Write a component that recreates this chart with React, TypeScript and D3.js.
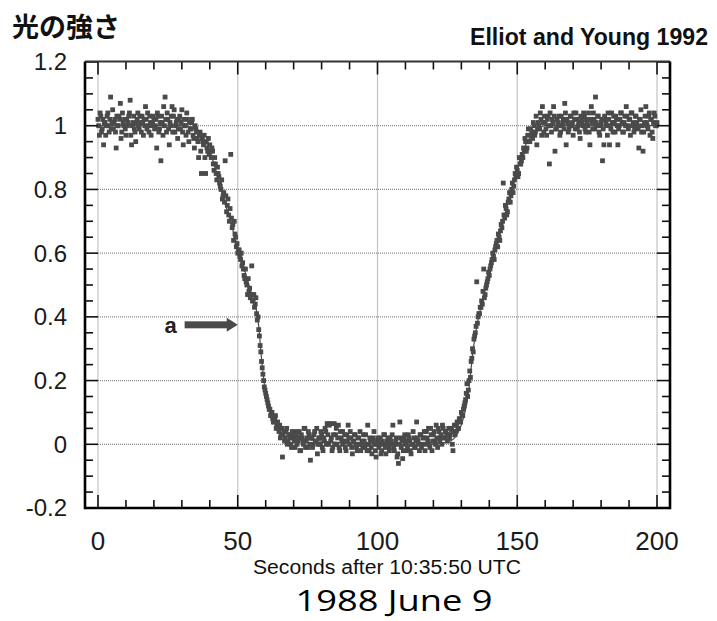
import React from 'react';
import * as d3 from 'd3';

const W = 717;
const H = 621;

// photometer sampling interval (seconds); two interleaved reading sets, offset by half a sample
const SAMPLE_DT = 0.5;
const OFFSET_B = 0.25;

// relative stellar flux, one reading per sample, by phase
const preStart = 0;
const preValues = [
  1.02, 0.97, 1.03, 0.99, 0.94, 1.01, 1.00, 1.04, 0.98, 1.09,
  1.01, 0.99, 1.02, 0.93, 1.00, 1.03, 1.07, 0.98, 1.01, 1.02,
  0.97, 1.00, 1.03, 1.08, 0.94, 1.01, 0.99, 0.95, 1.02, 1.00,
  1.03, 0.98, 1.01, 1.02, 1.06, 0.99, 1.00, 1.03, 0.97, 1.01,
  1.02, 1.00, 0.93, 1.03, 0.99, 0.89, 1.01, 1.06, 1.09, 0.98,
  1.02, 0.94, 1.00, 1.06, 1.03, 0.98, 1.01, 0.96, 1.02, 0.99,
  1.05, 0.94, 1.00, 0.97, 1.02, 0.95, 0.99, 1.01, 0.97, 0.93,
  0.99, 0.96, 0.90, 0.98, 0.85, 0.95, 0.97, 0.85, 0.93, 0.96,
];
const preValuesB = [
  1.00, 1.04, 0.98, 1.02, 1.01, 0.97, 1.03, 1.00, 1.02, 0.99,
  1.05, 1.01, 0.98, 1.03, 1.00, 1.02, 0.96, 1.04, 1.00, 0.99,
  1.02, 1.01, 1.04, 0.97, 1.00, 1.03, 0.98, 1.01, 1.04, 0.99,
  1.01, 1.03, 0.97, 1.00, 1.02, 1.04, 0.98, 1.01, 1.00, 1.03,
  0.99, 1.02, 1.04, 0.98, 1.01, 1.03, 0.97, 1.00, 1.02, 1.04,
  0.99, 1.01, 1.03, 0.98, 1.05, 1.00, 1.02, 0.99, 1.03, 1.01,
  0.98, 1.02, 1.00, 1.04, 0.98, 1.01, 0.99, 1.02, 0.96, 1.00,
  0.98, 0.95, 0.97, 0.92, 0.96, 0.94, 0.90, 0.95, 0.92, 0.91,
];

const ingressStart = 40;
const ingressValues = [
  0.94, 0.90, 0.92, 0.86, 0.88, 0.83, 0.85, 0.82, 0.80, 0.77,
  0.79, 0.89, 0.73, 0.77, 0.70, 0.91, 0.68, 0.64, 0.66, 0.62,
  0.60, 0.61, 0.58, 0.56, 0.55, 0.52, 0.51, 0.47, 0.48, 0.46,
  0.56, 0.45, 0.43, 0.46, 0.39, 0.36, 0.31, 0.26, 0.22, 0.18,
  0.16, 0.14, 0.12, 0.11, 0.10, 0.08, 0.07, 0.09, 0.06, 0.05,
  0.06, 0.03, -0.04, 0.04, 0.02, 0.05, 0.01, 0.03, 0.00, 0.04,
];
const ingressValuesB = [
  0.92, 0.93, 0.88, 0.90, 0.85, 0.87, 0.84, 0.81, 0.83, 0.78,
  0.76, 0.78, 0.75, 0.72, 0.74, 0.71, 0.69, 0.70, 0.65, 0.63,
  0.61, 0.59, 0.60, 0.57, 0.53, 0.55, 0.50, 0.52, 0.49, 0.47,
  0.45, 0.47, 0.44, 0.41, 0.40, 0.34, 0.29, 0.24, 0.20, 0.17,
  0.15, 0.13, 0.11, 0.09, 0.10, 0.07, 0.08, 0.05, 0.07, 0.04,
  0.02, 0.05, 0.03, 0.01, 0.04, 0.00, 0.03, 0.02, -0.01, 0.03,
];

const floorStart = 70;
const floorValues = [
  0.02, -0.01, 0.03, 0.01, 0.04, -0.02, 0.02, 0.00, 0.05, 0.01,
  -0.01, 0.03, -0.05, 0.02, 0.00, 0.04, 0.01, -0.03, 0.02, 0.00,
  0.03, -0.02, 0.01, 0.04, 0.065, 0.00, 0.065, 0.02, -0.01, 0.065,
  0.03, 0.00, 0.06, -0.02, 0.02, 0.04, 0.01, -0.01, 0.03, 0.06,
  0.00, 0.02, -0.03, 0.01, 0.03, -0.01, 0.02, 0.00, -0.02, 0.01,
  0.03, -0.01, 0.00, 0.06, -0.02, 0.01, -0.03, 0.02, 0.00, -0.04,
  0.01, -0.01, 0.02, -0.02, 0.00, 0.03, -0.03, 0.01, -0.01, 0.02,
  0.00, 0.06, -0.02, 0.01, -0.04, -0.06, 0.07, -0.01, -0.045, 0.02,
  0.00, -0.02, 0.03, 0.01, -0.03, 0.00, 0.02, -0.01, 0.07, 0.01,
  -0.02, 0.03, 0.00, 0.02, -0.02, 0.04, 0.01, 0.00, 0.05, -0.02,
  0.03, 0.01, 0.06, -0.01, 0.04, 0.02, 0.00, 0.05, 0.02, 0.04,
];
const floorValuesB = [
  0.01, 0.04, 0.00, 0.02, -0.02, 0.03, 0.01, 0.05, -0.01, 0.02,
  0.04, 0.00, 0.02, -0.01, 0.03, 0.01, 0.05, 0.00, 0.02, 0.04,
  -0.01, 0.02, 0.05, 0.00, 0.03, 0.06, 0.01, -0.02, 0.03, 0.00,
  0.05, 0.02, -0.01, 0.04, 0.01, 0.00, 0.03, -0.02, 0.01, 0.02,
  0.04, -0.01, 0.01, 0.03, 0.00, -0.02, 0.02, 0.04, 0.00, -0.01,
  0.01, 0.03, -0.02, 0.00, 0.02, -0.01, 0.01, 0.04, -0.02, 0.00,
  0.02, 0.00, -0.03, 0.01, 0.03, -0.01, 0.00, 0.02, -0.02, 0.01,
  0.03, -0.01, 0.00, 0.02, -0.03, 0.00, 0.02, 0.01, -0.02, 0.03,
  0.01, -0.01, 0.02, -0.02, 0.00, 0.04, -0.01, 0.01, 0.02, 0.00,
  0.03, -0.01, 0.02, 0.04, 0.00, 0.02, 0.05, -0.01, 0.03, 0.01,
  0.04, 0.00, 0.02, 0.05, 0.01, 0.03, 0.06, 0.02, 0.04, 0.03,
];

const egressStart = 125;
const egressValues = [
  0.01, 0.05, 0.03, 0.045, -0.02, 0.06, 0.04, 0.07, 0.05, 0.08,
  0.10, 0.09, 0.12, 0.14, 0.19, 0.17, 0.23, 0.26, 0.30, 0.33,
  0.35, 0.51, 0.40, 0.41, 0.43, 0.44, 0.55, 0.47, 0.50, 0.52,
  0.53, 0.56, 0.58, 0.59, 0.61, 0.63, 0.62, 0.65, 0.67, 0.68,
  0.82, 0.71, 0.74, 0.73, 0.77, 0.76, 0.80, 0.79, 0.83, 0.84,
  0.86, 0.85, 0.88, 0.89, 0.90, 0.92, 0.95, 0.93, 0.99, 0.95,
  0.97, 0.96, 1.00, 0.98, 0.94, 1.01, 0.99, 1.02, 1.06, 0.98,
];
const egressValuesB = [
  0.03, 0.02, 0.05, 0.00, 0.04, 0.03, 0.06, 0.05, 0.08, 0.07,
  0.09, 0.11, 0.13, 0.16, 0.15, 0.20, 0.21, 0.27, 0.29, 0.34,
  0.37, 0.38, 0.41, 0.43, 0.45, 0.48, 0.46, 0.49, 0.51, 0.54,
  0.55, 0.57, 0.60, 0.58, 0.62, 0.64, 0.66, 0.64, 0.69, 0.70,
  0.72, 0.75, 0.72, 0.76, 0.79, 0.78, 0.82, 0.81, 0.85, 0.87,
  0.84, 0.90, 0.88, 0.91, 0.93, 0.96, 0.92, 0.97, 0.95, 0.99,
  0.98, 1.01, 0.97, 1.03, 0.99, 1.00, 1.04, 0.97, 1.01, 1.03,
];

const postStart = 160;
const postValues = [
  1.01, 0.97, 1.03, 0.88, 1.00, 1.02, 1.06, 0.92, 0.99, 1.01,
  1.03, 0.98, 1.00, 1.02, 1.07, 0.94, 1.01, 0.99, 1.03, 1.00,
  0.97, 1.02, 1.04, 0.99, 1.01, 0.96, 1.02, 1.00, 1.03, 0.98,
  1.01, 1.04, 0.94, 1.06, 0.99, 1.02, 1.09, 1.00, 1.03, 0.97,
  1.01, 0.89, 0.94, 1.02, 1.00, 1.04, 0.94, 0.99, 1.01, 1.03,
  0.98, 1.02, 0.94, 1.00, 1.04, 1.01, 0.98, 1.03, 1.06, 1.00,
  1.02, 0.97, 1.04, 1.01, 0.99, 1.03, 1.00, 0.93, 1.02, 0.98,
  0.92, 1.01, 1.06, 1.00, 1.03, 0.97, 1.02, 0.96, 1.04, 1.00,
  1.01,
];
const postValuesB = [
  0.99, 1.02, 1.00, 1.04, 0.98, 1.01, 1.03, 0.99, 1.02, 1.00,
  0.97, 1.03, 1.01, 0.99, 1.04, 1.02, 0.98, 1.00, 1.03, 1.01,
  1.04, 0.99, 1.02, 1.00, 0.98, 1.03, 1.01, 1.04, 0.99, 1.02,
  1.00, 0.98, 1.02, 1.01, 1.04, 0.99, 1.01, 1.03, 0.98, 1.00,
  1.02, 0.99, 1.03, 1.01, 0.97, 1.02, 1.00, 1.04, 0.98, 1.01,
  1.03, 1.00, 0.99, 1.02, 1.04, 0.98, 1.01, 1.00, 1.03, 0.99,
  1.02, 1.04, 1.00, 0.98, 1.03, 1.01, 0.99, 1.02, 1.05, 1.00,
  0.98, 1.03, 1.01, 0.99, 1.04, 1.02, 0.98, 1.01, 1.03, 1.00,
];

// fitted model light curve
const modelTimes = [0, 30, 36, 40, 44, 48, 52, 55, 56.5, 57.5, 58.5, 59.5, 60.5, 62, 64, 67, 72, 80, 100,
  120, 126, 129, 131, 132.5, 134, 135.5, 137, 140, 144, 148, 152, 156, 160, 200];
const modelValues = [1.0, 1.0, 0.98, 0.92, 0.8, 0.68, 0.56, 0.47, 0.43, 0.37, 0.27, 0.19, 0.14, 0.1, 0.065,
  0.04, 0.02, 0.01, 0.0, 0.0, 0.01, 0.04, 0.09, 0.16, 0.28, 0.37, 0.43, 0.54, 0.67, 0.8, 0.92, 0.98, 1.0, 1.0];

const xTickValues = [0, 50, 100, 150, 200];
const xTickLabels = ['0', '50', '100', '150', '200'];
const yTickValues = [1.2, 1, 0.8, 0.6, 0.4, 0.2, 0, -0.2];
const yTickLabels = ['1.2', '1', '0.8', '0.6', '0.4', '0.2', '0', '-0.2'];

// annotation arrow "a" (data units)
const arrowTip = { t: 50, v: 0.375 };
const arrowTail = 31;
const arrowLabel = 'a';

const box = { left: 85, right: 670, top: 61.5, bottom: 508 };
const sans = '"Liberation Sans", Arial, sans-serif';

const App = () => {
  const x = d3.scaleLinear().domain([0, 200]).range([98, 657]);
  const y = d3.scaleLinear().domain([-0.2, 1.2]).range([508, 62]);

  const phases: [number, number[]][] = [
    [preStart, preValues],
    [preStart + OFFSET_B, preValuesB],
    [ingressStart, ingressValues],
    [ingressStart + OFFSET_B, ingressValuesB],
    [floorStart, floorValues],
    [floorStart + OFFSET_B, floorValuesB],
    [egressStart, egressValues],
    [egressStart + OFFSET_B, egressValuesB],
    [postStart, postValues],
    [postStart + OFFSET_B, postValuesB],
  ];
  const points = phases.flatMap(([t0, vals]) => vals.map((v, i) => ({ t: t0 + i * SAMPLE_DT, v })));

  const model = modelTimes.map((t, i) => [t, modelValues[i]] as [number, number]);
  const line = d3.line<[number, number]>()
    .x(d => x(d[0]))
    .y(d => y(d[1]))
    .curve(d3.curveMonotoneX);

  const minorX = d3.range(0, 201, 10);
  const minorY = d3.range(0, 29).map(i => -0.2 + i * 0.05);
  const isMajorY = (v: number) => Math.abs(v / 0.2 - Math.round(v / 0.2)) < 1e-6;

  const sq = 4.8;
  const markColor = '#4a4a4a';

  const ax = x(arrowTip.t);
  const ay = y(arrowTip.v);
  const tailX = x(arrowTail);

  return (
    <svg width={W} height={H} style={{ position: 'absolute', left: 0, top: 0, background: '#fff' }}>
      <rect width={W} height={H} fill="#fff" />

      {/* grid */}
      <g stroke="#8a8a8a" strokeWidth={1.2} strokeDasharray="1,1">
        {xTickValues.map(t => (
          <line key={'gx' + t} x1={x(t)} x2={x(t)} y1={box.top} y2={box.bottom} />
        ))}
        {yTickValues.filter(v => v > -0.2 && v < 1.2).map(v => (
          <line key={'gy' + v} x1={x(0)} x2={x(200)} y1={y(v)} y2={y(v)} />
        ))}
      </g>

      {/* data */}
      <g fill={markColor}>
        {points.map((p, i) => (
          <rect key={i} x={x(p.t) - sq / 2} y={y(p.v) - sq / 2} width={sq} height={sq} />
        ))}
      </g>
      <path d={line(model) || ''} fill="none" stroke={markColor} strokeWidth={1.2} />

      {/* ticks */}
      <g stroke="#111" strokeWidth={1.6}>
        {minorX.map(t => {
          const len = t % 50 === 0 ? 13 : 8;
          return (
            <g key={'tx' + t}>
              <line x1={x(t)} x2={x(t)} y1={box.top} y2={box.top + len} />
              <line x1={x(t)} x2={x(t)} y1={box.bottom} y2={box.bottom - len} />
            </g>
          );
        })}
        {minorY.map((v, i) => {
          const len = isMajorY(v) ? 13 : 8;
          return (
            <g key={'ty' + i}>
              <line x1={box.left} x2={box.left + len} y1={y(v)} y2={y(v)} />
              <line x1={box.right} x2={box.right - len} y1={y(v)} y2={y(v)} />
            </g>
          );
        })}
      </g>

      {/* frame */}
      <line x1={box.left} x2={box.right} y1={box.top} y2={box.top} stroke="#333" strokeWidth={2} />
      <g stroke="#000" strokeWidth={2.6}>
        <line x1={box.left} x2={box.left} y1={box.top} y2={box.bottom + 1.3} />
        <line x1={box.right} x2={box.right} y1={box.top} y2={box.bottom + 1.3} />
        <line x1={box.left} x2={box.right} y1={box.bottom} y2={box.bottom} />
      </g>

      {/* tick labels */}
      <g fontFamily={sans} fontSize={24} fill="#1a1a1a" textAnchor="end">
        {yTickValues.map((v, i) => (
          <text key={'ly' + v} x={67} y={y(v)} dy="0.35em">{yTickLabels[i]}</text>
        ))}
      </g>
      <g fontFamily={sans} fontSize={26} fill="#1a1a1a" textAnchor="middle">
        {xTickValues.map((t, i) => (
          <text key={'lx' + t} x={x(t)} y={550}>{xTickLabels[i]}</text>
        ))}
      </g>

      {/* annotation */}
      <rect x={tailX} y={ay - 3.5} width={ax - 9 - tailX} height={7} fill={markColor} />
      <path d={`M${ax},${ay} L${ax - 11},${ay - 7} L${ax - 11},${ay + 7} Z`} fill={markColor} />
      <text x={tailX - 8} y={ay + 8} fontFamily={sans} fontWeight="bold" fontSize={22} fill="#222" textAnchor="end">{arrowLabel}</text>

      {/* titles */}
      <text x={12} y={37} fontFamily='"Noto Sans CJK JP", sans-serif' fontWeight="bold" fontSize={27} fill="#111">光の強さ</text>
      <text x={708} y={45} fontFamily={sans} fontWeight="bold" fontSize={24} fill="#111" textAnchor="end"
        textLength={238} lengthAdjust="spacingAndGlyphs">Elliot and Young 1992</text>
      <text x={387} y={574} fontFamily={sans} fontSize={20} fill="#111" textAnchor="middle"
        textLength={268} lengthAdjust="spacingAndGlyphs">Seconds after 10:35:50 UTC</text>
      <text x={394} y={611} fontFamily='"Open Sans", sans-serif' fontSize={30} fill="#000" textAnchor="middle"
        textLength={197} lengthAdjust="spacingAndGlyphs">1988 June 9</text>
    </svg>
  );
};

export default App;
